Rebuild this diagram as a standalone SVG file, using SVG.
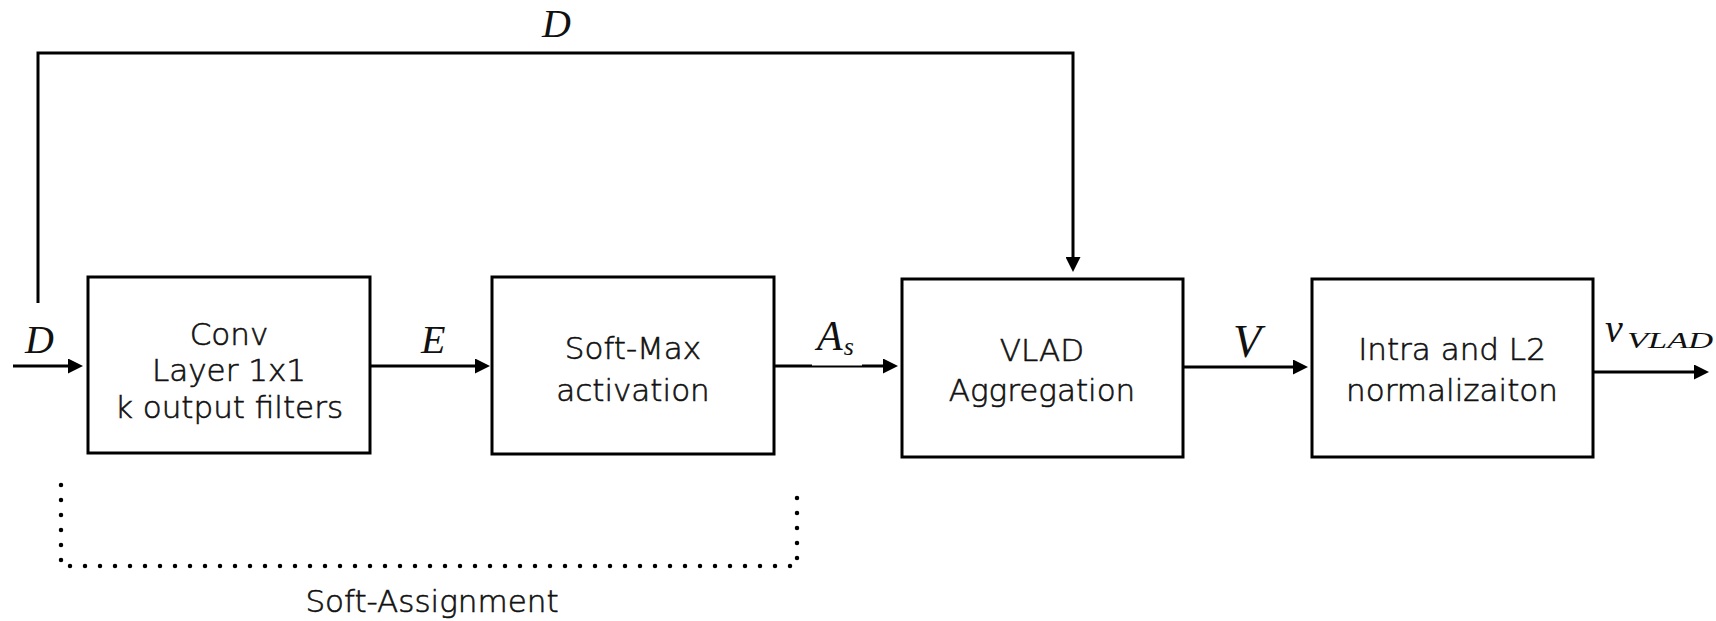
<svg xmlns="http://www.w3.org/2000/svg" width="1716" height="621" viewBox="0 0 1716 621">
  <style>
    .box { fill: #ffffff; stroke: #000000; stroke-width: 3; }
    .txt { font-family: "DejaVu Sans", "Liberation Sans", sans-serif; font-weight: 300; font-size: 31px; fill: #111111; stroke: #111111; stroke-width: 0.6; text-anchor: middle; }
    .math { font-family: "Liberation Serif", "DejaVu Serif", serif; font-style: italic; fill: #111111; }
    .wire { fill: none; stroke: #000000; stroke-width: 3; }
    .arrow { fill: none; stroke: #000000; stroke-width: 3; marker-end: url(#head); }
    .dots { fill: none; stroke: #000000; stroke-width: 4.5; stroke-linecap: round; stroke-dasharray: 0 15; }
  </style>
  <defs>
    <marker id="head" markerUnits="userSpaceOnUse" markerWidth="15" markerHeight="15" refX="3" refY="7.5" orient="auto">
      <path d="M0,0 L15,7.5 L0,15 Z" fill="#000000"/>
    </marker>
  </defs>
  <rect width="1716" height="621" fill="#ffffff"/>

  <!-- connectors -->
  <g id="connectors">
    <path class="wire" d="M38,303 V53 H1073 V260" marker-end="url(#head)"/>
    <path class="arrow" d="M13,366 H71"/>
    <path class="arrow" d="M370,366 H478"/>
    <path class="arrow" d="M774,366 H886"/>
    <!-- label backing thins the wire under the subscripted symbol -->
    <rect x="812" y="363" width="50" height="2.5" fill="#ffffff"/>
    <path class="arrow" d="M1183,367 H1296"/>
    <path class="arrow" d="M1593,372 H1697"/>
    <path class="dots" d="M61,485 V566 H797 V483"/>
  </g>

  <!-- signal labels -->
  <g id="labels">
    <text class="math" x="542" y="37" font-size="40">D</text>
    <text class="math" x="25" y="353" font-size="40">D</text>
    <text class="math" x="421" y="353" font-size="40">E</text>
    <text class="math" x="817" y="350" font-size="42">A<tspan font-size="26" dx="1" dy="5">s</tspan></text>
    <text class="math" x="1233" y="357" font-size="46">V</text>
    <text class="math" x="1605" y="342" font-size="40">v</text>
    <text class="math" x="1627" y="348" font-size="23" textLength="86" lengthAdjust="spacingAndGlyphs">VLAD</text>
  </g>

  <g id="conv">
    <rect class="box" x="88" y="277" width="282" height="176"/>
    <text class="txt" x="229" y="345">Conv</text>
    <text class="txt" x="229" y="381">Layer 1x1</text>
    <text class="txt" x="229" y="418">k output filters</text>
  </g>

  <g id="softmax">
    <rect class="box" x="492" y="277" width="282" height="177"/>
    <text class="txt" x="633" y="359">Soft-Max</text>
    <text class="txt" x="633" y="401">activation</text>
  </g>

  <g id="vlad">
    <rect class="box" x="902" y="279" width="281" height="178"/>
    <text class="txt" x="1042" y="361">VLAD</text>
    <text class="txt" x="1042" y="401">Aggregation</text>
  </g>

  <g id="norm">
    <rect class="box" x="1312" y="279" width="281" height="178"/>
    <text class="txt" x="1452" y="360">Intra and L2</text>
    <text class="txt" x="1452" y="401">normalizaiton</text>
  </g>

  <g id="soft-assignment">
    <text class="txt" x="432" y="612" font-size="33">Soft-Assignment</text>
  </g>
</svg>
